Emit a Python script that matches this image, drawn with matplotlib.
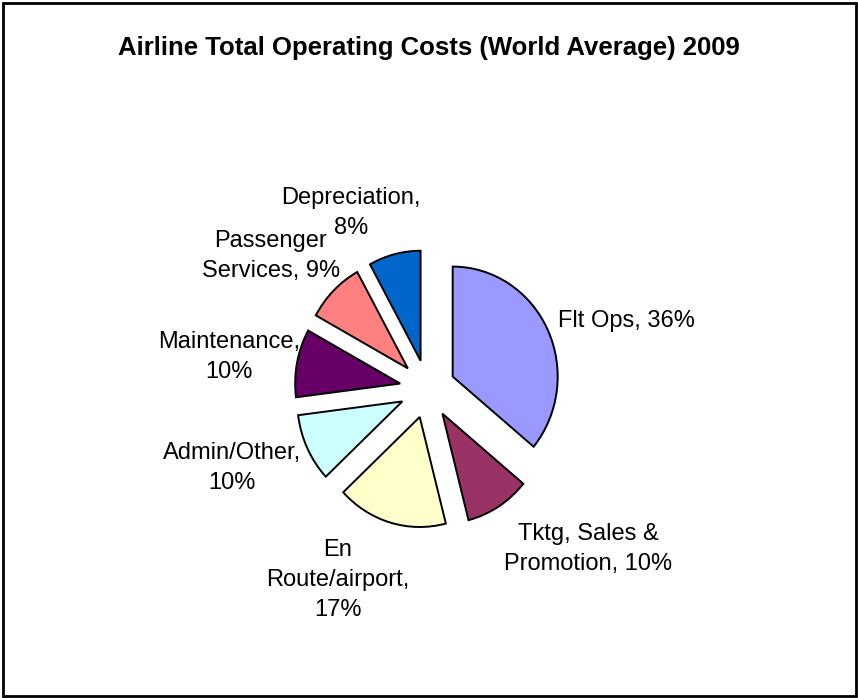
import matplotlib
matplotlib.use("Agg")
import matplotlib.pyplot as plt
from matplotlib.patches import Rectangle

plt.rcParams['font.family'] = ['Liberation Sans', 'DejaVu Sans']

# ---- data ----
categories = ["Flt Ops", "Tktg, Sales & Promotion", "En Route/airport", "Admin/Other",
              "Maintenance", "Passenger Services", "Depreciation"]
values = [36, 10, 17, 10, 10, 9, 8]
label_texts = ["Flt Ops, 36%", "Tktg, Sales &\nPromotion, 10%", "En\nRoute/airport,\n17%",
               "Admin/Other,\n10%", "Maintenance,\n10%", "Passenger\nServices, 9%",
               "Depreciation,\n8%"]
colors = ["#9999FF", "#993366", "#FFFFCC", "#CCFFFF", "#660066", "#FF8080", "#0066CC"]
title = "Airline Total Operating Costs (World Average) 2009"

# ---- layout (pixels of the 858x698 canvas) ----
W, H = 858, 698
cx, cy, rx, ry = 427.5, 389, 105, 110
label_px = [(626, 321), (588, 549), (338, 580), (232, 468), (229, 357), (271, 256), (351, 213)]

fig = plt.figure(figsize=(W / 100, H / 100), dpi=100)
ax = fig.add_axes([0, 0, 1, 1])
ax.pie(values, colors=colors, explode=[0.265] * len(values), startangle=90,
       counterclock=False, radius=1,
       wedgeprops=dict(edgecolor="black", linewidth=1.4))
ax.set_aspect("auto")
ax.set_xlim(-cx / rx, (W - cx) / rx)
ax.set_ylim(-(H - cy) / ry, cy / ry)
ax.axis("off")

for txt, (px, py) in zip(label_texts, label_px):
    ax.text((px - cx) / rx, (cy - py) / ry, txt, ha="center", va="center",
            multialignment="center", fontsize=17, linespacing=1.45)

fig.text(428.5 / W, 1 - 48 / H, title, ha="center", va="center",
         fontsize=18.5, fontweight="bold")

fig.patches.append(Rectangle((2.5 / W, 2.5 / H), (W - 5) / W, (H - 5) / H,
                             transform=fig.transFigure, fill=False,
                             edgecolor="black", linewidth=2))

fig.savefig("out.png", dpi=100, facecolor="white")
